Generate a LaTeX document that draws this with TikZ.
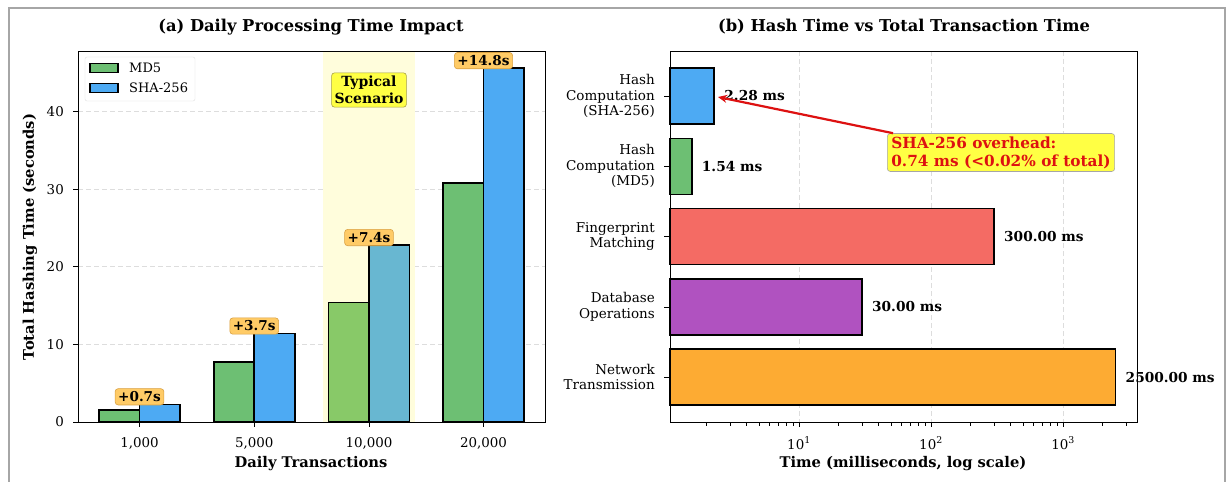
\documentclass[tikz,border=0pt]{standalone}
\usepackage{fontspec}
\setmainfont{DejaVu Serif}
\usetikzlibrary{arrows.meta}
\definecolor{md5c}{HTML}{6DBF73}
\definecolor{shac}{HTML}{4DAAF3}
\definecolor{md5h}{HTML}{88C968}
\definecolor{shah}{HTML}{68B7D1}
\definecolor{bandc}{HTML}{FFFDDC}
\definecolor{fpc}{HTML}{F46B64}
\definecolor{dbc}{HTML}{B052C0}
\definecolor{netc}{HTML}{FDAB33}
\definecolor{deltafill}{HTML}{FFCB66}
\definecolor{deltaedge}{HTML}{D9A041}
\definecolor{yel}{HTML}{FFFF44}
\definecolor{annred}{HTML}{DD1111}
\definecolor{gridc}{HTML}{DDDDDD}
\tikzset{
  tick/.style={font=\fontsize{13.4}{15.5}\selectfont, inner sep=0pt},
  legtxt/.style={font=\fontsize{13}{15}\selectfont, inner sep=0pt},
  axlabel/.style={font=\bfseries\fontsize{14.7}{17}\selectfont, inner sep=0pt},
  ptitle/.style={font=\bfseries\fontsize{16.3}{19}\selectfont, inner sep=0pt},
  bar/.style={draw=black, line width=1.6pt},
  axes/.style={draw=black, line width=1pt},
  grid line/.style={gridc, dashed, dash pattern=on 5pt off 3pt, line width=0.8pt},
  delta/.style={font=\bfseries\fontsize{13.6}{15}\selectfont, fill=deltafill, draw=deltaedge, rounded corners=3pt, inner xsep=3pt, inner ysep=3pt, line width=0.6pt},
  valtxt/.style={font=\bfseries\fontsize{13.7}{15}\selectfont, inner sep=0pt, anchor=west},
  cat/.style={font=\fontsize{13.5}{15.5}\selectfont, align=right, anchor=east, inner sep=0pt},
}
\begin{document}
\begin{tikzpicture}[x=1pt,y=-1pt]
\useasboundingbox (0,0) rectangle (1227,482);
\fill[white] (0,0) rectangle (1227,482);
% outer frame
\draw[gray!70, line width=1.2pt] (9,495) -- (9,8) -- (1225,8) -- (1225,495);

% ================= panel (a) =================
\node[ptitle] (ta) at (311,27) {(a) Daily Processing Time Impact};
% gridlines
\foreach \v in {10,20,30,40}{
  \draw[grid line] (78,422-7.76*\v) -- (545,422-7.76*\v);
}
% highlight band
\fill[bandc] (323,51) rectangle (415,422);
% bars
\foreach \i/\c/\m/\s/\d/\fm/\fs in {1/139.5/1.54/2.28/0.7/md5c/shac, 2/254.2/7.7/11.4/3.7/md5c/shac, 3/369/15.4/22.8/7.4/md5h/shah, 4/483.5/30.8/45.6/14.8/md5c/shac}{
  \pgfmathsetmacro\ym{422-7.76*\m}
  \pgfmathsetmacro\ys{422-7.76*\s}
  \draw[bar, fill=\fm] (\c-40.5,422) rectangle (\c,\ym);
  \draw[bar, fill=\fs] (\c,422) rectangle (\c+40.5,\ys);
  \node[delta] (d\i) at (\c,\ys-7.5) {+\d s};
}
\node[tick] (x1) at (139.5,443) {1,000};
\node[tick] (x2) at (254.2,443) {5,000};
\node[tick] (x3) at (369,443) {10,000};
\node[tick] (x4) at (483.5,443) {20,000};
\foreach \c in {139.5,254.2,369,483.5}{\draw[line width=0.8pt] (\c,422) -- (\c,427);}
% y ticks
\foreach \v in {0,10,20,30,40}{
  \draw[line width=0.8pt] (73,422-7.76*\v) -- (78,422-7.76*\v);
  \node[tick, anchor=east] (ya\v) at (64,422-7.76*\v) {\v};
}
% axes box
\draw[axes] (78,51) rectangle (545,422);
% typical scenario
\node[font=\bfseries\fontsize{14}{17.5}\selectfont, align=center, fill=yel, draw=yellow!60!black, rounded corners=3pt, inner xsep=3pt, inner ysep=3pt, line width=0.6pt] (typ) at (369,90) {Typical\\Scenario};
% legend
\node[draw=gray!25, fill=white, rounded corners=2pt, minimum width=110pt, minimum height=44pt, inner sep=0pt] (leg) at (140,79) {};
\draw[line width=1.6pt, fill=md5c] (90,63.5) rectangle (118,72.5);
\draw[line width=1.6pt, fill=shac] (90,83.5) rectangle (118,92.5);
\node[legtxt, anchor=west] (lmd5) at (129,68) {MD5};
\node[legtxt, anchor=west] (lsha) at (129,88) {SHA-256};
% axis labels
\node[axlabel] (xla) at (311,464) {Daily Transactions};
\node[axlabel, rotate=90] (yla) at (30,237) {Total Hashing Time (seconds)};

% ================= panel (b) =================
\node[ptitle] (tb) at (904,27) {(b) Hash Time vs Total Transaction Time};
\foreach \x in {799,931,1063}{
  \draw[grid line] (\x,51) -- (\x,422);
}
% bars: x = 799 + 132*(log10(v)-1)
\foreach \i/\yc/\v/\col/\lab in {1/96/2.28/shac/2.28, 2/166.3/1.54/md5c/1.54, 3/236.6/300/fpc/300.00, 4/306.9/30/dbc/30.00, 5/377.2/2500/netc/2500.00}{
  \pgfmathsetmacro\xe{799+132*(log10(\v)-1)}
  \draw[bar, fill=\col] (670,\yc-28) rectangle (\xe,\yc+28);
  \node[valtxt] (v\i) at (\xe+10,\yc) {\lab\ ms};
  \draw[line width=0.8pt] (664,\yc) -- (670,\yc);
}
% category labels
\node[cat] (c1) at (655,96) {Hash\\Computation\\(SHA-256)};
\node[cat] (c2) at (655,166.3) {Hash\\Computation\\(MD5)};
\node[cat] (c3) at (655,236.6) {Fingerprint\\Matching};
\node[cat] (c4) at (655,306.9) {Database\\Operations};
\node[cat] (c5) at (655,377.2) {Network\\Transmission};
% log ticks
\foreach \d in {0,1,2,3}{
  \foreach \k in {2,...,9}{
    \pgfmathsetmacro\xm{799+132*(log10(\k)+\d-1)}
    \pgfmathparse{\xm<1137 ? 1 : 0}
    \ifnum\pgfmathresult=1 \draw[line width=0.6pt] (\xm,422) -- (\xm,425.5);\fi
  }
}
\foreach \x/\e in {799/1,931/2,1063/3}{
  \draw[line width=0.8pt] (\x,422) -- (\x,427);
  \node[tick] (lx\e) at (\x,443) {10\textsuperscript{\e}};
}
\draw[axes] (670,51) rectangle (1137,422);
% annotation
\node[font=\bfseries\fontsize{15.3}{18}\selectfont, text=annred, align=left, fill=yel, draw=gray!70, rounded corners=3pt, inner xsep=4pt, inner ysep=3pt, line width=0.6pt] (ann) at (1001,152.5) {SHA-256 overhead:\\0.74 ms (<0.02\% of total)};
\coordinate (tip) at (718,97);
\draw[annred, line width=2.2pt, -{Stealth[length=9pt,width=8pt]}] ([xshift=6pt]ann.north west) -- (tip);
\node[axlabel] (xlb) at (903,464) {Time (milliseconds, log scale)};
\end{tikzpicture}
\end{document}
